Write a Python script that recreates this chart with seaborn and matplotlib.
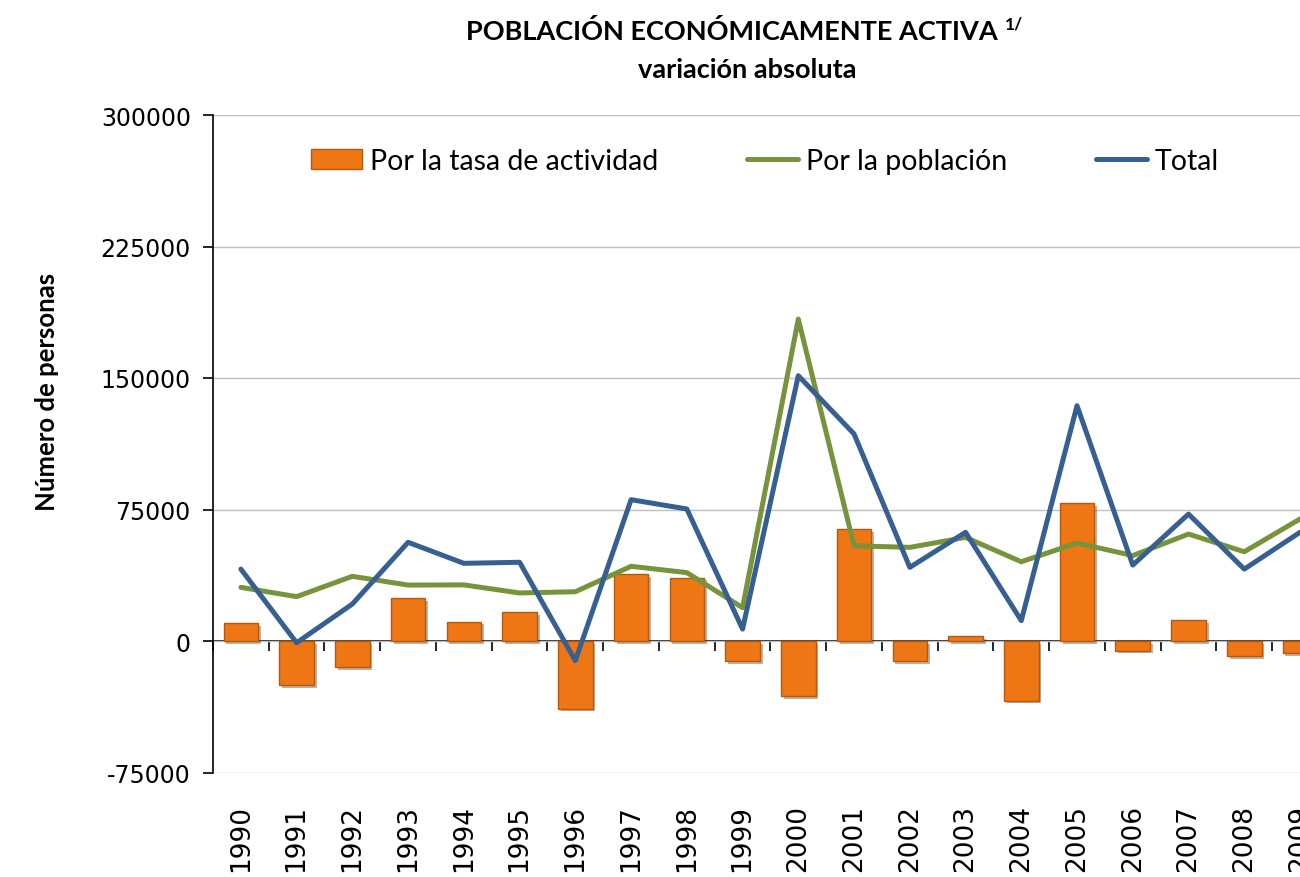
import numpy as np
import matplotlib.pyplot as plt
import matplotlib.patheffects as pe
from matplotlib.patches import Patch
from matplotlib.lines import Line2D
import seaborn as sns

# datos (número de personas)
years = [str(y) for y in range(1990, 2010)]
tasa = [10000, -25000, -15000, 24500, 11000, 16500, -38500, 38000, 36200, -11400,
        -31400, 64000, -11400, 2900, -34000, 78500, -5500, 12100, -8700, -7000]
poblacion = [30600, 25300, 36900, 31900, 32000, 27400, 28100, 42600, 39000, 19000,
             183600, 54300, 53400, 59100, 45200, 55900, 48700, 61000, 50900, 69600]
total = [41000, -1000, 21100, 56300, 44300, 44900, -11200, 80600, 75300, 6800,
         151300, 118100, 42000, 62000, 11600, 134200, 43300, 72400, 41000, 62000]
yticks = [-75000, 0, 75000, 150000, 225000, 300000]

ORANGE = '#EE7614'
GREEN = '#77933C'
BLUE = '#376092'

sns.set_style('white')
plt.rcParams['font.family'] = ['DejaVu Sans']
plt.rcParams.update({'text.color': 'black', 'axes.labelcolor': 'black',
                     'xtick.color': 'black', 'ytick.color': 'black'})

W, H = 1300, 878
fig = plt.figure(figsize=(W / 100, H / 100), dpi=100)
left, right, top, bottom = 213, 1300, 116, 773.5
ax = fig.add_axes([left / W, 1 - bottom / H, (right - left) / W, (bottom - top) / H])

sns.barplot(x=years, y=tasa, color=ORANGE, saturation=1, width=0.62,
            edgecolor='#B8580A', linewidth=1, ax=ax, zorder=2)
for bar in ax.patches:
    bar.set_path_effects([pe.SimplePatchShadow(offset=(2, -2), alpha=0.35), pe.Normal()])

sns.lineplot(x=years, y=poblacion, color=GREEN, linewidth=3.6, ax=ax, zorder=3, sort=False)
sns.lineplot(x=years, y=total, color=BLUE, linewidth=3.6, ax=ax, zorder=4, sort=False)

ax.set_xlim(-0.5, 19.0)
ax.set_ylim(-75000, 300000)
ax.set_yticks(yticks)
ax.set_yticklabels([str(v) for v in yticks])
ax.set_xlabel('')
ax.yaxis.grid(True, color='#BFBFBF', linewidth=1)
ax.xaxis.grid(False)
ax.set_axisbelow(True)

for s in ['top', 'right', 'bottom']:
    ax.spines[s].set_visible(False)
ax.spines['left'].set_color('black')
ax.spines['left'].set_linewidth(1.2)

ax.tick_params(axis='y', direction='out', length=7, width=1.2, color='black',
               labelsize=17, pad=9, left=True)
ax.tick_params(axis='x', length=0, labelsize=19, pad=23, labelrotation=90)

# eje en cero con marcas entre categorías
zero = ax.secondary_xaxis((0 - yticks[0]) / (yticks[-1] - yticks[0]))
zero.set_xticks(np.arange(-0.5, 19.5, 1))
zero.tick_params(axis='x', direction='out', length=7, width=1.2, color='black',
                 labelbottom=False)
zero.spines['bottom'].set_color('black')
zero.spines['bottom'].set_linewidth(1.2)

ax.set_ylabel('Número de personas', fontsize=18.5, fontweight='bold', family='Lato')
ax.yaxis.set_label_coords(-0.142, 0.58)

handles = [
    Patch(facecolor=ORANGE, edgecolor='#B8580A', label='Por la tasa de actividad'),
    Line2D([], [], color=GREEN, linewidth=3.6, label='Por la población'),
    Line2D([], [], color=BLUE, linewidth=3.6, label='Total'),
]
leg = ax.legend(handles=handles, loc='center', bbox_to_anchor=(0.508, 0.93), ncol=3,
                frameon=False, prop={'family': 'Lato', 'size': 20.5},
                handlelength=1.8, handleheight=0.7, handletextpad=0.28, columnspacing=3.1)

t1 = fig.text(0.563, 1 - 32 / H, 'POBLACIÓN ECONÓMICAMENTE ACTIVA', ha='center', va='center',
              fontsize=19.5, fontweight='bold', family='Lato')
ax.annotate('1/', xy=(1, 1), xycoords=t1, xytext=(5, 2), textcoords='offset points',
            ha='left', va='top', fontsize=12.5, fontweight='bold', family='Lato')
fig.text(0.575, 1 - 70 / H, 'variación absoluta', ha='center', va='center',
         fontsize=19.5, fontweight='bold', family='Lato')

fig.savefig('out.png', dpi=100)
